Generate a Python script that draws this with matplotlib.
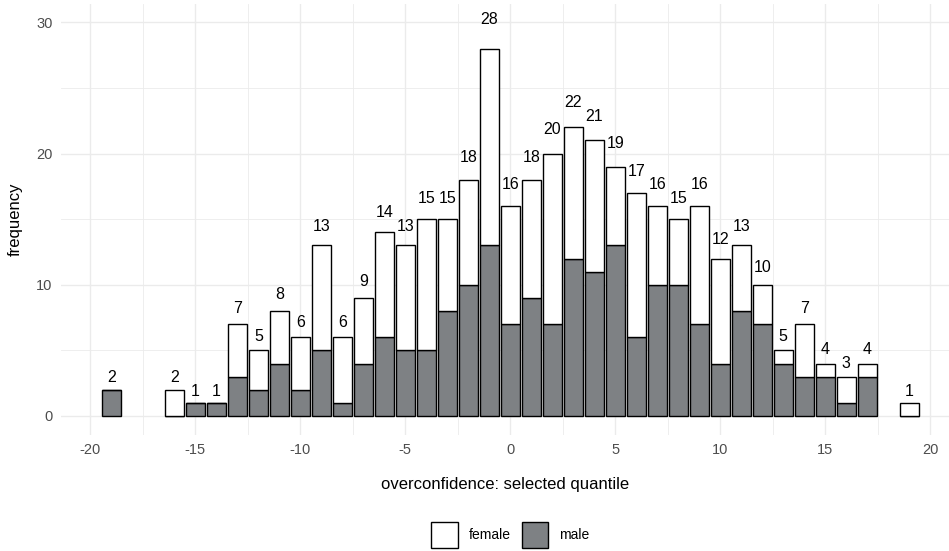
import matplotlib.pyplot as plt
from matplotlib.patches import Patch

plt.rcParams["font.family"] = ["Liberation Sans", "DejaVu Sans"]
plt.rcParams["axes.unicode_minus"] = False

# selected quantile bins and counts per gender
quantile = [-19, -16, -15, -14, -13, -12, -11, -10, -9, -8, -7, -6, -5, -4, -3, -2, -1,
            0, 1, 2, 3, 4, 5, 6, 7, 8, 9, 10, 11, 12, 13, 14, 15, 16, 17, 19]
total = [2, 2, 1, 1, 7, 5, 8, 6, 13, 6, 9, 14, 13, 15, 15, 18, 28,
         16, 18, 20, 22, 21, 19, 17, 16, 15, 16, 12, 13, 10, 5, 7, 4, 3, 4, 1]
male = [2, 0, 1, 1, 3, 2, 4, 2, 5, 1, 4, 6, 5, 5, 8, 10, 13,
        7, 9, 7, 12, 11, 13, 6, 10, 10, 7, 4, 8, 7, 4, 3, 3, 1, 3, 0]
female = [t - m for t, m in zip(total, male)]

grey = "#7e8184"

fig = plt.figure(figsize=(9.49, 5.51), dpi=100)
ax = fig.add_axes([0.0643, 0.2105, 0.9357, 0.7822])

ax.bar(quantile, male, width=0.9, color=grey, edgecolor="black", linewidth=1.0, zorder=3)
ax.bar(quantile, female, bottom=male, width=0.9, color="white", edgecolor="black",
       linewidth=1.0, zorder=3)

for q, t in zip(quantile, total):
    ax.text(q, t + 0.85 + 0.048 * t, str(t), ha="center", va="center", fontsize=11.5,
            color="black", zorder=4)

ax.set_xlim(-21.4, 20.9)
ax.set_ylim(-1.45, 31.4)
ax.set_xticks([-20, -15, -10, -5, 0, 5, 10, 15, 20])
ax.set_xticks([-17.5, -12.5, -7.5, -2.5, 2.5, 7.5, 12.5, 17.5], minor=True)
ax.set_yticks([0, 10, 20, 30])
ax.set_yticks([5, 15, 25], minor=True)
ax.grid(which="major", color="#ebebeb", linewidth=1.0, zorder=0)
ax.grid(which="minor", color="#ebebeb", linewidth=0.6, zorder=0)
ax.tick_params(which="both", length=0, labelsize=10.5, labelcolor="#4d4d4d", pad=6)
for s in ax.spines.values():
    s.set_visible(False)

ax.set_xlabel("overconfidence: selected quantile", fontsize=12, labelpad=14)
ax.set_ylabel("frequency", fontsize=12, labelpad=10)

handles = [Patch(facecolor="white", edgecolor="black", linewidth=1.0, label="female"),
           Patch(facecolor=grey, edgecolor="black", linewidth=1.0, label="male")]
fig.legend(handles=handles, loc="center", bbox_to_anchor=(0.538, 0.029), ncol=2,
           frameon=False, fontsize=10, handlelength=1.9, handleheight=2.6,
           handletextpad=0.8, columnspacing=0.8)

fig.savefig("out.png", dpi=100)
